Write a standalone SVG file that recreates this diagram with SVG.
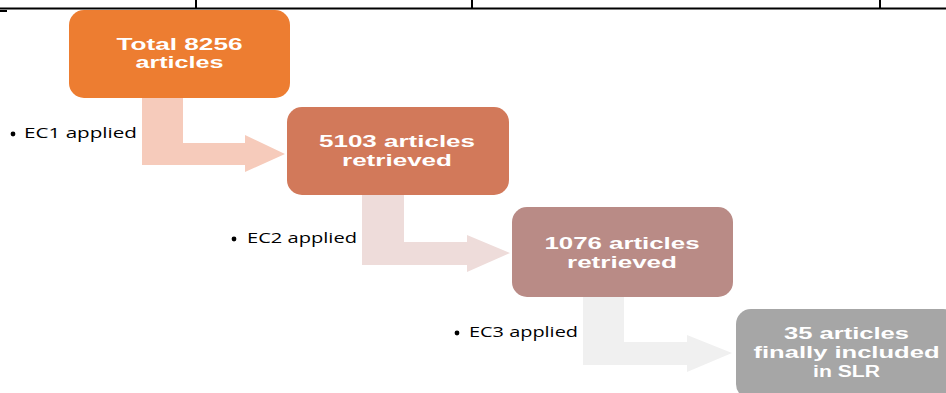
<svg xmlns="http://www.w3.org/2000/svg" width="946" height="393" viewBox="0 0 946 393">
<style>
.bt{font-family:"Liberation Sans",Arial,sans-serif;font-size:16px;font-weight:700;fill:#ffffff;text-anchor:middle}
.lb{font-family:"Open Sans","Liberation Sans",sans-serif;font-size:14px;font-weight:400;fill:#000000}
.tl{stroke:#000000;stroke-width:2;fill:none}
</style>
<rect width="946" height="393" fill="#ffffff"/>
<g id="table-edge">
<line class="tl" x1="0" y1="8.5" x2="946" y2="8.5"/>
<line class="tl" x1="196" y1="0" x2="196" y2="8"/>
<line class="tl" x1="472" y1="0" x2="472" y2="8"/>
<line class="tl" x1="880" y1="0" x2="880" y2="8"/>
<line class="tl" x1="0" y1="11" x2="7" y2="11"/>
</g>
<g id="connectors">
<path d="M142,95 L183,95 L183,143 L245,143 L245,135 L285,154 L245,172 L245,165 L142,165 Z" fill="#F6CBBB"/>
<path d="M362,194 L404,194 L404,242 L467,242 L467,235 L510,253 L467,272 L467,265 L362,265 Z" fill="#EEDCDA"/>
<path d="M583,295 L624,295 L624,342 L687,342 L687,335 L732,353 L687,372 L687,365 L583,365 Z" fill="#F0F0F0"/>
<g id="label-ec1"><circle cx="13" cy="134" r="2.4" fill="#000"/><text class="lb" x="24" y="138" textLength="113" lengthAdjust="spacingAndGlyphs">EC1 applied</text></g>
<g id="label-ec2"><circle cx="234" cy="239" r="2.4" fill="#000"/><text class="lb" x="247" y="243" textLength="110" lengthAdjust="spacingAndGlyphs">EC2 applied</text></g>
<g id="label-ec3"><circle cx="457" cy="333" r="2.4" fill="#000"/><text class="lb" x="469" y="337" textLength="109" lengthAdjust="spacingAndGlyphs">EC3 applied</text></g>
</g>
<g id="node-total">
<rect x="69" y="10" width="221" height="88" rx="15" fill="#ED7D31"/>
<text class="bt" x="179.5" y="49.5" textLength="126" lengthAdjust="spacingAndGlyphs">Total 8256</text>
<text class="bt" x="179.5" y="68" textLength="88" lengthAdjust="spacingAndGlyphs">articles</text>
</g>
<g id="node-5103">
<rect x="287" y="107" width="222" height="88" rx="15" fill="#D2795A"/>
<text class="bt" x="397" y="147" textLength="156" lengthAdjust="spacingAndGlyphs">5103 articles</text>
<text class="bt" x="397" y="166" textLength="110" lengthAdjust="spacingAndGlyphs">retrieved</text>
</g>
<g id="node-1076">
<rect x="512" y="207" width="221" height="90" rx="15" fill="#B98B86"/>
<text class="bt" x="622" y="249" textLength="155" lengthAdjust="spacingAndGlyphs">1076 articles</text>
<text class="bt" x="622" y="268" textLength="110" lengthAdjust="spacingAndGlyphs">retrieved</text>
</g>
<g id="node-35">
<rect x="736" y="309" width="222" height="90" rx="15" fill="#A6A6A6"/>
<text class="bt" x="846.5" y="339" textLength="125" lengthAdjust="spacingAndGlyphs">35 articles</text>
<text class="bt" x="846.5" y="358" textLength="186" lengthAdjust="spacingAndGlyphs">finally included</text>
<text class="bt" x="846.5" y="377" textLength="67" lengthAdjust="spacingAndGlyphs">in SLR</text>
</g>
</svg>
